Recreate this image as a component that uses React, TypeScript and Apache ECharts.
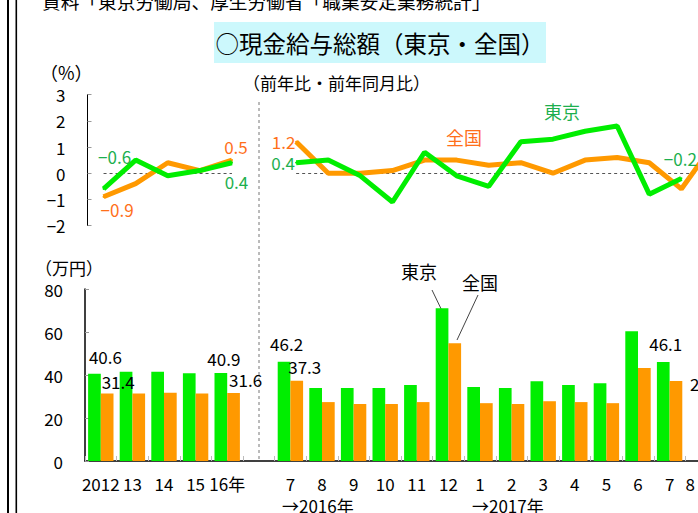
import React, { useEffect, useRef } from "react";
import * as echarts from "echarts";

const FONT = "'Noto Sans CJK JP', 'Noto Sans', sans-serif";

// Categories: 5 annual, 1 gap, 14 monthly (2016-7 .. 2017-8)
const categories = ["2012", "13", "14", "15", "16年", "", "7", "8", "9", "10", "11", "12", "1", "2", "3", "4", "5", "6", "7", "8"];

// 現金給与総額 (万円)
const tokyoWage = [40.6, 41.5, 41.5, 40.8, 40.9, null, 46.2, 33.9, 33.9, 33.9, 35.3, 71.0, 34.4, 33.9, 37.1, 35.3, 36.2, 60.3, 46.1, null];
const nationalWage = [31.4, 31.4, 31.8, 31.4, 31.6, null, 37.3, 27.4, 26.5, 26.5, 27.4, 54.8, 26.9, 26.5, 27.8, 27.4, 26.9, 43.3, 37.2, null];

// 前年比・前年同月比 (%)
const tokyoChange = [-0.6, 0.5, -0.1, 0.1, 0.4, null, 0.4, 0.5, -0.1, -1.1, 0.8, -0.1, -0.5, 1.2, 1.3, 1.6, 1.8, -0.8, -0.2, null];
const nationalChange = [-0.9, -0.4, 0.4, 0.1, 0.5, null, 1.2, 0.0, 0.0, 0.1, 0.5, 0.5, 0.3, 0.4, 0.0, 0.5, 0.6, 0.4, -0.6, 1.1];

const changeTicks = [-2, -1, 0, 1, 2, 3];
const wageTicks = [0, 20, 40, 60, 80];

const GREEN = "#00ee00";
const ORANGE = "#ff9900";
const GREEN_TEXT = "#1daf4e";
const ORANGE_TEXT = "#ff6f1a";

const fmtSigned = (v: number) => (v < 0 ? "−" + Math.abs(v).toFixed(1) : v.toFixed(1));

// label placements (offsets only)
const tokyoBarLabels: Record<number, number[]> = { 0: [11, -3.5], 4: [3, -1.5], 6: [2.5, -4.5], 18: [2.5, -4.5] };
const nationalBarLabels: Record<number, number[]> = { 0: [11, 1.5], 4: [12, -0.5], 6: [8, -0.5] };
const tokyoLineLabels: Record<number, number[]> = { 0: [11, -32], 4: [4.5, 18.7], 6: [-13, 0], 18: [-1, -20] };
const nationalLineLabels: Record<number, number[]> = { 0: [13.5, 12.5], 4: [4, -13.5], 6: [-12.5, 0] };

function barData(values: (number | null)[], labels: Record<number, number[]>) {
  return values.map((v, i) =>
    labels[i]
      ? {
          value: v,
          label: {
            show: true,
            position: "top",
            offset: labels[i],
            color: "#000",
            fontSize: 17,
            fontFamily: FONT,
            formatter: (p: any) => Number(p.value).toFixed(1),
          },
        }
      : v
  );
}

function lineData(values: (number | null)[], labels: Record<number, number[]>, color: string) {
  return values.map((v, i) =>
    labels[i]
      ? {
          value: v,
          label: {
            show: true,
            position: "inside",
            offset: labels[i],
            color,
            fontSize: 17,
            fontFamily: FONT,
            formatter: (p: any) => fmtSigned(Number(p.value)),
          },
        }
      : v
  );
}

export default function App() {
  const ref = useRef<HTMLDivElement>(null);
  useEffect(() => {
    if (!ref.current) return;
    const chart = echarts.init(ref.current, null, { renderer: "svg" });
    const lastIdx = categories.length - 1;
    const option: any = {
      animation: false,
      backgroundColor: "#fff",
      textStyle: { fontFamily: FONT },
      grid: [
        { left: 87.5, top: 94.6, width: 642, height: 131 },
        { left: 85, top: 289, width: 632, height: 172 },
      ],
      xAxis: [
        { gridIndex: 0, type: "category", data: categories, show: false },
        {
          gridIndex: 1,
          type: "category",
          data: categories,
          axisLine: { lineStyle: { color: "#000", width: 1.5 } },
          axisTick: { show: true, inside: true, length: 5, interval: 0, lineStyle: { color: "#bbb" } },
          axisLabel: {
            interval: 0,
            color: "#000",
            fontSize: 17,
            margin: 14,
            fontFamily: FONT,
            formatter: (v: string, i: number) => (i === lastIdx ? "{s|" + v + "}" : v),
            rich: { s: { fontSize: 17, fontFamily: FONT, color: "#000", padding: [0, 22, 0, 0] } },
          },
        },
      ],
      yAxis: [
        {
          gridIndex: 0,
          type: "value",
          min: changeTicks[0],
          max: changeTicks[changeTicks.length - 1],
          interval: 1,
          axisLine: { show: true, lineStyle: { color: "#000", width: 1 } },
          axisTick: { show: true, inside: true, length: 4, lineStyle: { color: "#999" } },
          splitLine: { show: false },
          axisLabel: { color: "#000", fontSize: 17, margin: 22, fontFamily: FONT, formatter: (v: number) => (v < 0 ? "−" + Math.abs(v) : String(v)) },
        },
        {
          gridIndex: 1,
          type: "value",
          min: wageTicks[0],
          max: wageTicks[wageTicks.length - 1],
          interval: 20,
          axisLine: { show: true, lineStyle: { color: "#000", width: 1.5 } },
          axisTick: { show: true, inside: true, length: 4, lineStyle: { color: "#999" } },
          splitLine: { show: false },
          axisLabel: { color: "#000", fontSize: 17, margin: 22, fontFamily: FONT },
        },
      ],
      series: [
        {
          name: "東京",
          type: "bar",
          xAxisIndex: 1,
          yAxisIndex: 1,
          barWidth: 12.7,
          barGap: "0%",
          itemStyle: { color: GREEN },
          data: barData(tokyoWage, tokyoBarLabels),
        },
        {
          name: "全国",
          type: "bar",
          xAxisIndex: 1,
          yAxisIndex: 1,
          barWidth: 12.7,
          barGap: "0%",
          itemStyle: { color: ORANGE },
          data: barData(nationalWage, nationalBarLabels),
        },
        {
          name: "全国変化",
          type: "line",
          xAxisIndex: 0,
          yAxisIndex: 0,
          symbol: "circle",
          symbolSize: 2,
          connectNulls: false,
          itemStyle: { color: ORANGE },
          lineStyle: { color: ORANGE, width: 5 },
          data: lineData(nationalChange, nationalLineLabels, ORANGE_TEXT),
          z: 3,
          markLine: {
            silent: true,
            symbol: "none",
            label: { show: false },
            lineStyle: { color: "#555", type: [3, 3], width: 1 },
            data: [
              [{ coord: [0, 0] }, { coord: [4, 0] }],
              [{ coord: [6, 0] }, { coord: [19, 0] }],
            ],
            z: 1,
          },
        },
        {
          name: "東京変化",
          type: "line",
          xAxisIndex: 0,
          yAxisIndex: 0,
          symbol: "circle",
          symbolSize: 2,
          connectNulls: false,
          itemStyle: { color: GREEN },
          lineStyle: { color: GREEN, width: 5 },
          data: lineData(tokyoChange, tokyoLineLabels, GREEN_TEXT),
          z: 4,
        },
      ],
      graphic: [
        { type: "rect", shape: { x: 7, y: 0, width: 2, height: 513 }, style: { fill: "#000" }, silent: true },
        { type: "rect", shape: { x: 15.5, y: 0, width: 1.6, height: 513 }, style: { fill: "#000" }, silent: true },
        {
          type: "text",
          x: 42,
          y: 0,
          style: { text: "資料「東京労働局、厚生労働省「職業安定業務統計」", fontSize: 18.7, fontFamily: FONT, fill: "#000", textAlign: "left", textVerticalAlign: "middle" },
        },
        { type: "rect", shape: { x: 214, y: 22, width: 332, height: 41 }, style: { fill: "#ccf8fc" }, z: 0 },
        {
          type: "text",
          x: 380,
          y: 43,
          style: { text: "○現金給与総額（東京・全国）", fontSize: 23.5, fontFamily: FONT, fill: "#000", textAlign: "center", textVerticalAlign: "middle" },
          z: 1,
        },
        {
          type: "text",
          x: 243,
          y: 82,
          style: { text: "（前年比・前年同月比）", fontSize: 17, fontFamily: FONT, fill: "#000", textAlign: "left", textVerticalAlign: "middle" },
        },
        {
          type: "text",
          x: 40,
          y: 72,
          style: { text: "（%）", fontSize: 18, fontFamily: FONT, fill: "#000", textAlign: "left", textVerticalAlign: "middle" },
        },
        {
          type: "text",
          x: 35,
          y: 267,
          style: { text: "（万円）", fontSize: 17, fontFamily: FONT, fill: "#000", textAlign: "left", textVerticalAlign: "middle" },
        },
        { type: "line", shape: { x1: 259, y1: 102, x2: 259, y2: 461 }, style: { stroke: "#777", lineWidth: 1, lineDash: [3, 3] } },
        {
          type: "text",
          x: 562,
          y: 111,
          style: { text: "東京", fontSize: 18, fontFamily: FONT, fill: GREEN_TEXT, textAlign: "center", textVerticalAlign: "middle" },
        },
        {
          type: "text",
          x: 464,
          y: 137,
          style: { text: "全国", fontSize: 18, fontFamily: FONT, fill: ORANGE_TEXT, textAlign: "center", textVerticalAlign: "middle" },
        },
        {
          type: "text",
          x: 419,
          y: 271,
          style: { text: "東京", fontSize: 18, fontFamily: FONT, fill: "#000", textAlign: "center", textVerticalAlign: "middle" },
        },
        {
          type: "text",
          x: 480,
          y: 282,
          style: { text: "全国", fontSize: 18, fontFamily: FONT, fill: "#000", textAlign: "center", textVerticalAlign: "middle" },
        },
        { type: "line", shape: { x1: 432, y1: 290, x2: 445, y2: 317 }, style: { stroke: "#444", lineWidth: 1 } },
        { type: "line", shape: { x1: 478, y1: 295, x2: 457, y2: 340 }, style: { stroke: "#444", lineWidth: 1 } },
        {
          type: "text",
          x: 282,
          y: 505,
          style: { text: "→2016年", fontSize: 17, fontFamily: FONT, fill: "#000", textAlign: "left", textVerticalAlign: "middle" },
        },
        {
          type: "text",
          x: 472,
          y: 505,
          style: { text: "→2017年", fontSize: 17, fontFamily: FONT, fill: "#000", textAlign: "left", textVerticalAlign: "middle" },
        },
        {
          type: "text",
          x: 690,
          y: 383,
          style: { text: "2", fontSize: 17, fontFamily: FONT, fill: "#000", textAlign: "left", textVerticalAlign: "middle" },
        },
      ],
    };
    chart.setOption(option);
    return () => chart.dispose();
  }, []);
  return (
    <div style={{ position: "fixed", left: 0, top: 0, width: 698, height: 513, overflow: "hidden", background: "#fff" }}>
      <div ref={ref} style={{ width: 740, height: 513 }} />
    </div>
  );
}
